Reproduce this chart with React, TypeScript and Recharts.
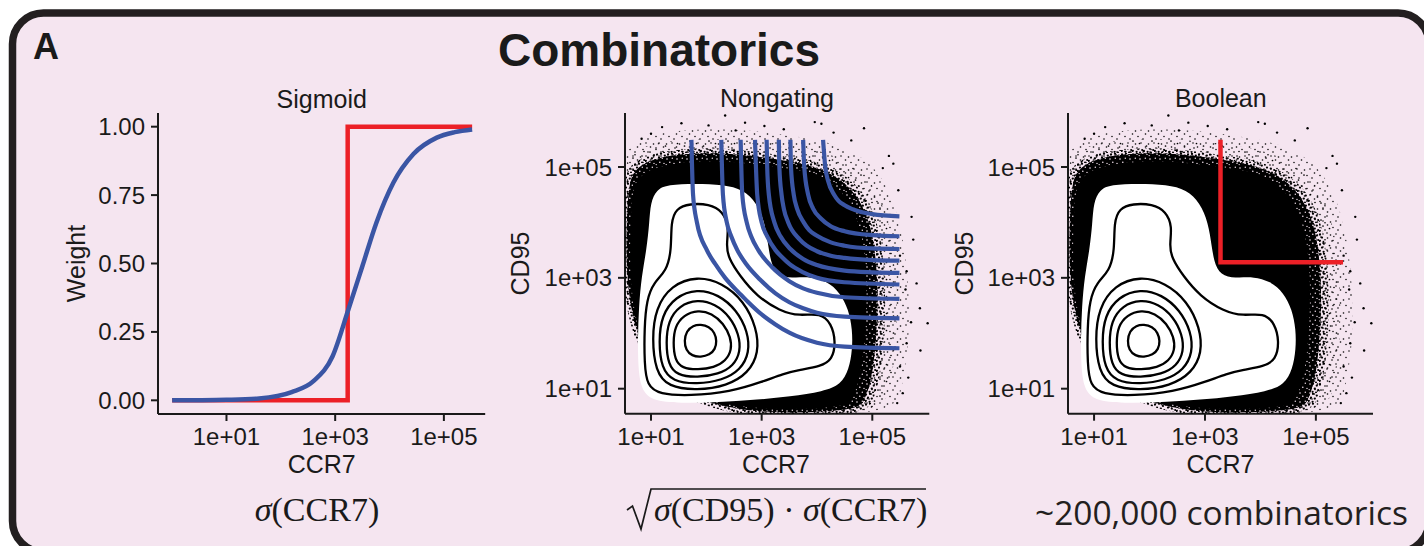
import React from 'react';
import { Curve, Scatter, ScatterChart, XAxis, YAxis } from 'recharts';

const SANS = '"Liberation Sans", Arial, Helvetica, sans-serif';
const SERIF = '"Liberation Serif", "Times New Roman", serif';
const ROUND = '"Open Sans", "Noto Sans", sans-serif';
const INK = '#1a1a1a';
const FRAME = '#231f20';
const PANEL_BG = '#f5e5f0';
const BLUE = '#3a55a4';
const RED = '#ec2027';

type Pt = [number, number];

// Sigmoid panel: x = log10(CCR7), y = weight
const sigmoidLogCcr7 = [0, 0.5, 1, 1.6, 2.2, 2.6, 2.95, 3.24, 3.5, 3.76, 4.07, 4.44, 4.87, 5.2, 5.52];
const sigmoidWeight = [0, 0.0005, 0.002, 0.007, 0.03, 0.07, 0.16, 0.33, 0.49, 0.65, 0.795, 0.9, 0.96, 0.98, 0.99];
const stepLogCcr7 = [0, 3.23, 3.23, 5.52];
const stepWeight = [0, 0, 1, 1];
const weightTicks = [0, 0.25, 0.5, 0.75, 1];
const logTicks = [1, 3, 5];

// Flow panels: x = log10(CCR7), y = log10(CD95)
// event cloud, from the thin outer fringe down to the solid centre
const cloudHalo: Pt[] = [[0.45, 0.45], [0.45, 5.05], [0.62, 5.42], [1.1, 5.62], [2.0, 5.7], [2.8, 5.66], [3.5, 5.57], [4.2, 5.46], [4.75, 5.24], [5.15, 4.88], [5.42, 4.32], [5.58, 3.6], [5.65, 2.9], [5.68, 2.2], [5.62, 1.5], [5.52, 0.95], [5.38, 0.45]];
const cloudFringe: Pt[] = [[0.45, 0.45], [0.45, 4.9], [0.62, 5.26], [1.05, 5.45], [2.0, 5.52], [2.8, 5.48], [3.45, 5.4], [4.1, 5.29], [4.6, 5.08], [4.97, 4.75], [5.23, 4.25], [5.37, 3.65], [5.43, 2.95], [5.45, 2.3], [5.41, 1.6], [5.32, 1.0], [5.16, 0.45]];
const cloudMid: Pt[] = [[0.45, 0.45], [0.45, 4.7], [0.62, 5.06], [1.0, 5.24], [1.5, 5.32], [2.1, 5.35], [2.7, 5.3], [3.3, 5.22], [3.9, 5.13], [4.4, 4.94], [4.78, 4.63], [5.03, 4.2], [5.16, 3.7], [5.22, 3.1], [5.24, 2.5], [5.21, 1.9], [5.16, 1.3], [5.03, 0.8], [4.86, 0.45]];
const cloudInner: Pt[] = [[0.54, 0.55], [0.54, 4.55], [0.68, 4.96], [1.04, 5.15], [1.55, 5.24], [2.15, 5.26], [2.75, 5.21], [3.35, 5.13], [3.9, 5.03], [4.36, 4.84], [4.7, 4.53], [4.93, 4.08], [5.04, 3.6], [5.09, 3.0], [5.1, 2.4], [5.06, 1.8], [5.0, 1.22], [4.86, 0.75], [4.66, 0.55]];
const cloudCore: Pt[] = [[0.61, 0.62], [0.61, 4.35], [0.72, 4.8], [1.07, 5.0], [1.6, 5.09], [2.2, 5.11], [2.8, 5.06], [3.4, 4.99], [3.9, 4.9], [4.3, 4.71], [4.58, 4.4], [4.76, 4.0], [4.86, 3.5], [4.9, 2.9], [4.89, 2.3], [4.85, 1.7], [4.77, 1.15], [4.62, 0.75], [4.4, 0.62]];
const cloudOutliers: Pt[] = [[0.83, 5.51], [1.55, 5.79], [2.04, 5.75], [2.34, 5.93], [2.53, 5.66], [3.05, 5.74], [3.96, 5.81], [4.08, 5.78], [4.85, 5.7], [4.62, 5.48], [5.19, 4.98], [5.38, 5.06], [5.47, 4.58], [5.71, 4.1], [5.74, 3.69], [5.62, 3.12], [5.6, 2.79], [5.86, 2.45], [6.0, 2.18], [5.7, 2.2], [5.62, 1.82], [5.87, 1.69], [5.5, 1.4], [5.55, 0.92], [5.45, 0.74], [5.65, 1.2], [5.3, 5.2], [1.2, 5.72], [3.4, 5.68], [4.3, 5.62], [1.0, 5.6], [2.7, 5.8], [5.8, 2.9], [5.5, 3.4]];

// density estimate: filled outer level, then the nested contour lines
const densityFill: Pt[] = [[0.99, 4.35], [1.1, 4.59], [1.3, 4.68], [1.8, 4.7], [2.31, 4.68], [2.67, 4.59], [2.91, 4.35], [3.06, 3.99], [3.12, 3.57], [3.18, 3.21], [3.33, 3.02], [3.63, 3.0], [3.87, 3.02], [4.18, 2.94], [4.42, 2.73], [4.57, 2.43], [4.64, 2.07], [4.64, 1.71], [4.58, 1.35], [4.43, 1.07], [4.12, 0.95], [3.51, 0.86], [2.91, 0.8], [2.31, 0.76], [1.7, 0.74], [1.1, 0.76], [0.85, 0.92], [0.77, 1.28], [0.76, 1.88], [0.78, 2.48], [0.83, 3.03], [0.92, 3.51], [0.97, 3.99]];
const contour1: Pt[] = [[1.37, 3.5], [1.36, 4.0], [1.45, 4.25], [1.7, 4.34], [2.05, 4.33], [2.3, 4.2], [2.41, 3.92], [2.36, 3.6], [2.4, 3.35], [2.61, 3.03], [2.91, 2.67], [3.33, 2.4], [3.69, 2.31], [4.06, 2.37], [4.26, 2.18], [4.34, 1.85], [4.28, 1.52], [4.06, 1.4], [3.69, 1.34], [3.39, 1.27], [3.03, 1.13], [2.43, 0.94], [1.7, 0.87], [1.15, 0.9], [0.93, 1.05], [0.88, 1.45], [0.88, 2.1], [0.92, 2.6], [1.05, 2.92], [1.28, 3.12]];
const contour2: Pt[] = [[1.02, 1.9], [1.08, 2.45], [1.37, 2.87], [1.83, 3.03], [2.29, 2.91], [2.68, 2.58], [2.91, 2.1], [2.95, 1.65], [2.76, 1.28], [2.37, 1.05], [1.83, 0.97], [1.31, 1.03], [1.08, 1.32]];
const contour3: Pt[] = [[1.14, 1.85], [1.19, 2.32], [1.44, 2.66], [1.83, 2.8], [2.22, 2.7], [2.55, 2.42], [2.75, 2.03], [2.78, 1.65], [2.62, 1.34], [2.29, 1.15], [1.83, 1.08], [1.39, 1.13], [1.19, 1.37]];
const contour4: Pt[] = [[1.27, 1.83], [1.31, 2.22], [1.51, 2.5], [1.84, 2.61], [2.16, 2.53], [2.43, 2.3], [2.59, 1.98], [2.62, 1.67], [2.49, 1.41], [2.22, 1.26], [1.84, 1.2], [1.47, 1.24], [1.31, 1.44]];
const contour5: Pt[] = [[1.4, 1.83], [1.43, 2.12], [1.59, 2.33], [1.85, 2.42], [2.1, 2.36], [2.31, 2.18], [2.44, 1.93], [2.46, 1.7], [2.35, 1.5], [2.14, 1.38], [1.85, 1.34], [1.56, 1.37], [1.43, 1.52]];
const contour6: Pt[] = [[1.6, 1.86], [1.64, 2.04], [1.76, 2.14], [1.9, 2.16], [2.05, 2.12], [2.15, 2.01], [2.19, 1.86], [2.16, 1.71], [2.06, 1.61], [1.9, 1.57], [1.74, 1.59], [1.63, 1.7]];
const contourLines = [contour1, contour2, contour3, contour4, contour5, contour6];

// level sets of sqrt(sigma(CD95) * sigma(CCR7))
const level1: Pt[] = [[1.73, 5.49], [1.76, 4.5], [1.83, 4.0], [2.01, 3.5], [2.16, 3.25], [2.34, 3.0], [2.57, 2.75], [2.66, 2.66], [2.75, 2.57], [3.0, 2.34], [3.25, 2.16], [3.5, 2.01], [4.0, 1.83], [4.5, 1.76], [5.49, 1.73]];
const level2: Pt[] = [[2.27, 5.49], [2.3, 4.5], [2.37, 4.0], [2.45, 3.75], [2.56, 3.5], [2.72, 3.25], [2.97, 2.97], [3.25, 2.72], [3.5, 2.56], [3.75, 2.45], [4.0, 2.37], [4.5, 2.3], [5.49, 2.27]];
const level3: Pt[] = [[2.62, 5.49], [2.65, 4.5], [2.73, 4.0], [2.81, 3.75], [2.94, 3.5], [3.19, 3.19], [3.5, 2.94], [3.75, 2.81], [4.0, 2.73], [4.5, 2.65], [5.49, 2.62]];
const level4: Pt[] = [[2.88, 5.49], [2.92, 4.5], [3.0, 4.0], [3.1, 3.75], [3.25, 3.5], [3.37, 3.37], [3.5, 3.25], [3.75, 3.1], [4.0, 3.0], [4.5, 2.92], [5.49, 2.88]];
const level5: Pt[] = [[3.09, 5.49], [3.1, 5.0], [3.13, 4.5], [3.23, 4.0], [3.34, 3.75], [3.52, 3.52], [3.75, 3.34], [4.0, 3.23], [4.5, 3.13], [5.0, 3.1], [5.49, 3.09]];
const level6: Pt[] = [[3.31, 5.49], [3.32, 5.0], [3.36, 4.5], [3.4, 4.25], [3.48, 4.0], [3.69, 3.69], [4.0, 3.48], [4.25, 3.4], [4.5, 3.36], [5.0, 3.32], [5.49, 3.31]];
const level7: Pt[] = [[3.52, 5.49], [3.53, 5.0], [3.58, 4.5], [3.64, 4.25], [3.76, 4.0], [3.86, 3.86], [4.0, 3.76], [4.25, 3.64], [4.5, 3.58], [5.0, 3.53], [5.49, 3.52]];
const level8: Pt[] = [[3.75, 5.49], [3.77, 5.0], [3.84, 4.5], [3.93, 4.25], [4.07, 4.07], [4.25, 3.93], [4.5, 3.84], [5.0, 3.77], [5.49, 3.75]];
const level9: Pt[] = [[4.11, 5.49], [4.15, 5.0], [4.2, 4.75], [4.31, 4.5], [4.39, 4.39], [4.5, 4.31], [4.75, 4.2], [5.0, 4.15], [5.49, 4.11]];
const levelCurves = [level1, level2, level3, level4, level5, level6, level7, level8, level9];

// boolean gate: CCR7+ and CD95+
const booleanGate: Pt[] = [[3.28, 5.49], [3.28, 3.28], [5.49, 3.28]];

const toXY = (arr: Pt[]) => arr.map(([x, y]) => ({ x, y }));
const zip = (xs: number[], ys: number[]) => xs.map((x, i) => ({ x, y: ys[i] }));
const sci = (v: number) => `1e+0${v}`;

const YW = 90;
const XH = 60;
const PAD = 10;

type Rect = { x0: number; y0: number; x1: number; y1: number };
const SIG_PLOT: Rect = { x0: 158.3, y0: 113, x1: 485.5, y1: 414 };
const NG_PLOT: Rect = { x0: 625, y0: 113.3, x1: 929.3, y1: 414 };
const BOOL_PLOT: Rect = { x0: 1068.3, y0: 113.3, x1: 1373.3, y1: 414 };

const NoDot = () => <g />;
const Speck = (p: any) => <circle cx={p.cx} cy={p.cy} r={1.2} fill="#000" />;

const filled = (fill: string) => (p: any) => (
  <Curve points={p.points} type="basisClosed" fill={fill} stroke="none" />
);
const stroked = (stroke: string, width: number, type: any) => (p: any) => (
  <Curve points={p.points} type={type} fill="none" stroke={stroke} strokeWidth={width} strokeLinejoin="miter" />
);

const axisLook = {
  axisLine: { stroke: INK, strokeWidth: 2 },
  tickLine: { stroke: INK, strokeWidth: 2 },
  tickSize: 7,
  tick: { fill: INK, fontSize: 24, fontFamily: SANS },
  interval: 0 as const,
  allowDataOverflow: true,
};

function Plot({ plot, xDomain, yDomain, yTicks, yFormat, children }: any) {
  const left = plot.x0 - YW;
  const top = plot.y0 - PAD;
  const width = YW + (plot.x1 - plot.x0) + PAD;
  const height = PAD + (plot.y1 - plot.y0) + XH;
  return (
    <div style={{ position: 'absolute', left, top }}>
      <ScatterChart width={width} height={height} margin={{ top: PAD, right: PAD, bottom: 0, left: 0 }}>
        <XAxis type="number" dataKey="x" domain={xDomain} ticks={logTicks} tickFormatter={sci} height={XH} tickMargin={7} {...axisLook} />
        <YAxis type="number" dataKey="y" domain={yDomain} ticks={yTicks} tickFormatter={yFormat} width={YW} tickMargin={6} {...axisLook} />
        {children}
      </ScatterChart>
    </div>
  );
}

const FLOW_X = [0.53, 6.03];
const FLOW_Y = [0.549, 5.974];

const cloudBands: [string, Pt[], string][] = [
  ['halo', cloudHalo, 'url(#speck-a)'],
  ['fringe', cloudFringe, 'url(#speck-b)'],
  ['mid', cloudMid, 'url(#speck-c)'],
  ['inner', cloudInner, 'url(#speck-d)'],
  ['core', cloudCore, '#000'],
];

function densityLayers() {
  const layers = cloudBands.map(([name, shape, fill]) => (
    <Scatter key={name} data={toXY(shape)} shape={NoDot} line={filled(fill)} isAnimationActive={false} />
  ));
  layers.push(<Scatter key="out" data={toXY(cloudOutliers)} shape={Speck} isAnimationActive={false} />);
  layers.push(<Scatter key="fill" data={toXY(densityFill)} shape={NoDot} line={filled('#fff')} isAnimationActive={false} />);
  contourLines.forEach((c, i) =>
    layers.push(
      <Scatter key={`c${i}`} data={toXY(c)} shape={NoDot} line={stroked('#000', 2.3, 'basisClosed')} isAnimationActive={false} />
    )
  );
  return layers;
}

export default function App() {
  return (
    <div style={{ position: 'absolute', left: 0, top: 0, width: 1424, height: 546, overflow: 'hidden', background: '#fff' }}>
      <svg width={1424} height={546} style={{ position: 'absolute', left: 0, top: 0 }}>
        <defs>
          <pattern id="speck-a" width="13" height="13" patternUnits="userSpaceOnUse">
            <circle cx="1.5" cy="2" r="0.8" fill="#000" />
            <circle cx="7" cy="1" r="0.75" fill="#000" />
            <circle cx="11.5" cy="5" r="0.8" fill="#000" />
            <circle cx="4" cy="7.5" r="0.75" fill="#000" />
            <circle cx="9" cy="10" r="0.8" fill="#000" />
          </pattern>
          <pattern id="speck-b" width="19" height="17" patternUnits="userSpaceOnUse">
            <circle cx="3" cy="4" r="0.85" fill="#000" />
            <circle cx="12" cy="2" r="0.8" fill="#000" />
            <circle cx="16.5" cy="9" r="0.85" fill="#000" />
            <circle cx="7" cy="11" r="0.8" fill="#000" />
            <circle cx="1" cy="15" r="0.85" fill="#000" />
            <circle cx="14" cy="14.5" r="0.8" fill="#000" />
            <circle cx="9.5" cy="6.5" r="0.85" fill="#000" />
            <circle cx="5" cy="0.8" r="0.8" fill="#000" />
          </pattern>
          <pattern id="speck-c" width="11" height="10" patternUnits="userSpaceOnUse">
            <circle cx="1" cy="1.5" r="1.15" fill="#000" />
            <circle cx="5" cy="0.8" r="1.1" fill="#000" />
            <circle cx="8.8" cy="2.6" r="1.15" fill="#000" />
            <circle cx="3" cy="4.6" r="1.1" fill="#000" />
            <circle cx="6.8" cy="5.6" r="1.15" fill="#000" />
            <circle cx="10.2" cy="7" r="1.1" fill="#000" />
            <circle cx="0.8" cy="7.8" r="1.15" fill="#000" />
            <circle cx="4.6" cy="8.8" r="1.1" fill="#000" />
            <circle cx="8" cy="9.4" r="1" fill="#000" />
          </pattern>
          <pattern id="speck-d" width="10" height="9" patternUnits="userSpaceOnUse">
            <rect width="10" height="9" fill="#000" />
            <circle cx="2" cy="2" r="0.8" fill={PANEL_BG} />
            <circle cx="7.3" cy="1.2" r="0.7" fill={PANEL_BG} />
            <circle cx="4.8" cy="5.2" r="0.8" fill={PANEL_BG} />
            <circle cx="9" cy="6.4" r="0.7" fill={PANEL_BG} />
            <circle cx="1.2" cy="7.6" r="0.7" fill={PANEL_BG} />
          </pattern>
        </defs>
        <rect x={12.5} y={13} width={1416.5} height={539} rx={31} ry={31} fill={PANEL_BG} stroke={FRAME} strokeWidth={7.5} />
      </svg>

      <Plot plot={SIG_PLOT} xDomain={[-0.26, 5.76]} yDomain={[-0.05, 1.05]} yTicks={weightTicks} yFormat={(v: number) => v.toFixed(2)}>
        <Scatter data={zip(stepLogCcr7, stepWeight)} shape={NoDot} line={stroked(RED, 4.5, 'linear')} isAnimationActive={false} />
        <Scatter data={zip(sigmoidLogCcr7, sigmoidWeight)} shape={NoDot} line={stroked(BLUE, 4.5, 'monotoneX')} isAnimationActive={false} />
      </Plot>

      <Plot plot={NG_PLOT} xDomain={FLOW_X} yDomain={FLOW_Y} yTicks={logTicks} yFormat={sci}>
        {densityLayers()}
        {levelCurves.map((c, i) => (
          <Scatter key={`l${i}`} data={toXY(c)} shape={NoDot} line={stroked(BLUE, 4.2, 'monotoneX')} isAnimationActive={false} />
        ))}
      </Plot>

      <Plot plot={BOOL_PLOT} xDomain={FLOW_X} yDomain={FLOW_Y} yTicks={logTicks} yFormat={sci}>
        {densityLayers()}
        <Scatter data={toXY(booleanGate)} shape={NoDot} line={stroked(RED, 4.5, 'linear')} isAnimationActive={false} />
      </Plot>

      <svg width={1424} height={546} style={{ position: 'absolute', left: 0, top: 0, pointerEvents: 'none' }}>
        <g fill={INK} fontFamily={SANS}>
          <text x={33} y={59} fontSize={36} fontWeight={700}>A</text>
          <text x={659} y={66} fontSize={46} fontWeight={700} textAnchor="middle">Combinatorics</text>

          <text x={321.7} y={108} fontSize={25} textAnchor="middle">Sigmoid</text>
          <text x={777} y={107} fontSize={25} textAnchor="middle">Nongating</text>
          <text x={1220.8} y={107} fontSize={25} textAnchor="middle">Boolean</text>

          <text x={321.7} y={473} fontSize={25} textAnchor="middle">CCR7</text>
          <text x={776} y={473} fontSize={25} textAnchor="middle">CCR7</text>
          <text x={1220.5} y={473} fontSize={25} textAnchor="middle">CCR7</text>

          <text transform="translate(85,263.5) rotate(-90)" fontSize={25} textAnchor="middle">Weight</text>
          <text transform="translate(529,263.5) rotate(-90)" fontSize={25} textAnchor="middle">CD95</text>
          <text transform="translate(973,263.5) rotate(-90)" fontSize={25} textAnchor="middle">CD95</text>
        </g>

        <g fill={INK} fontFamily={SERIF} fontSize={34}>
          <text x={317} y={521} textAnchor="middle">
            <tspan fontStyle="italic">σ</tspan>(CCR7)
          </text>
          <path d="M 627 510 L 632.5 506 L 641 529 L 651 489 L 926 489" fill="none" stroke={INK} strokeWidth={1.7} />
          <text x={654} y={521}>
            <tspan fontStyle="italic">σ</tspan>(CD95) · <tspan fontStyle="italic">σ</tspan>(CCR7)
          </text>
        </g>

        <text x={1035} y={525} fontFamily={ROUND} fontSize={33.5} fill="#231f20">~200,000 combinatorics</text>
      </svg>
    </div>
  );
}
